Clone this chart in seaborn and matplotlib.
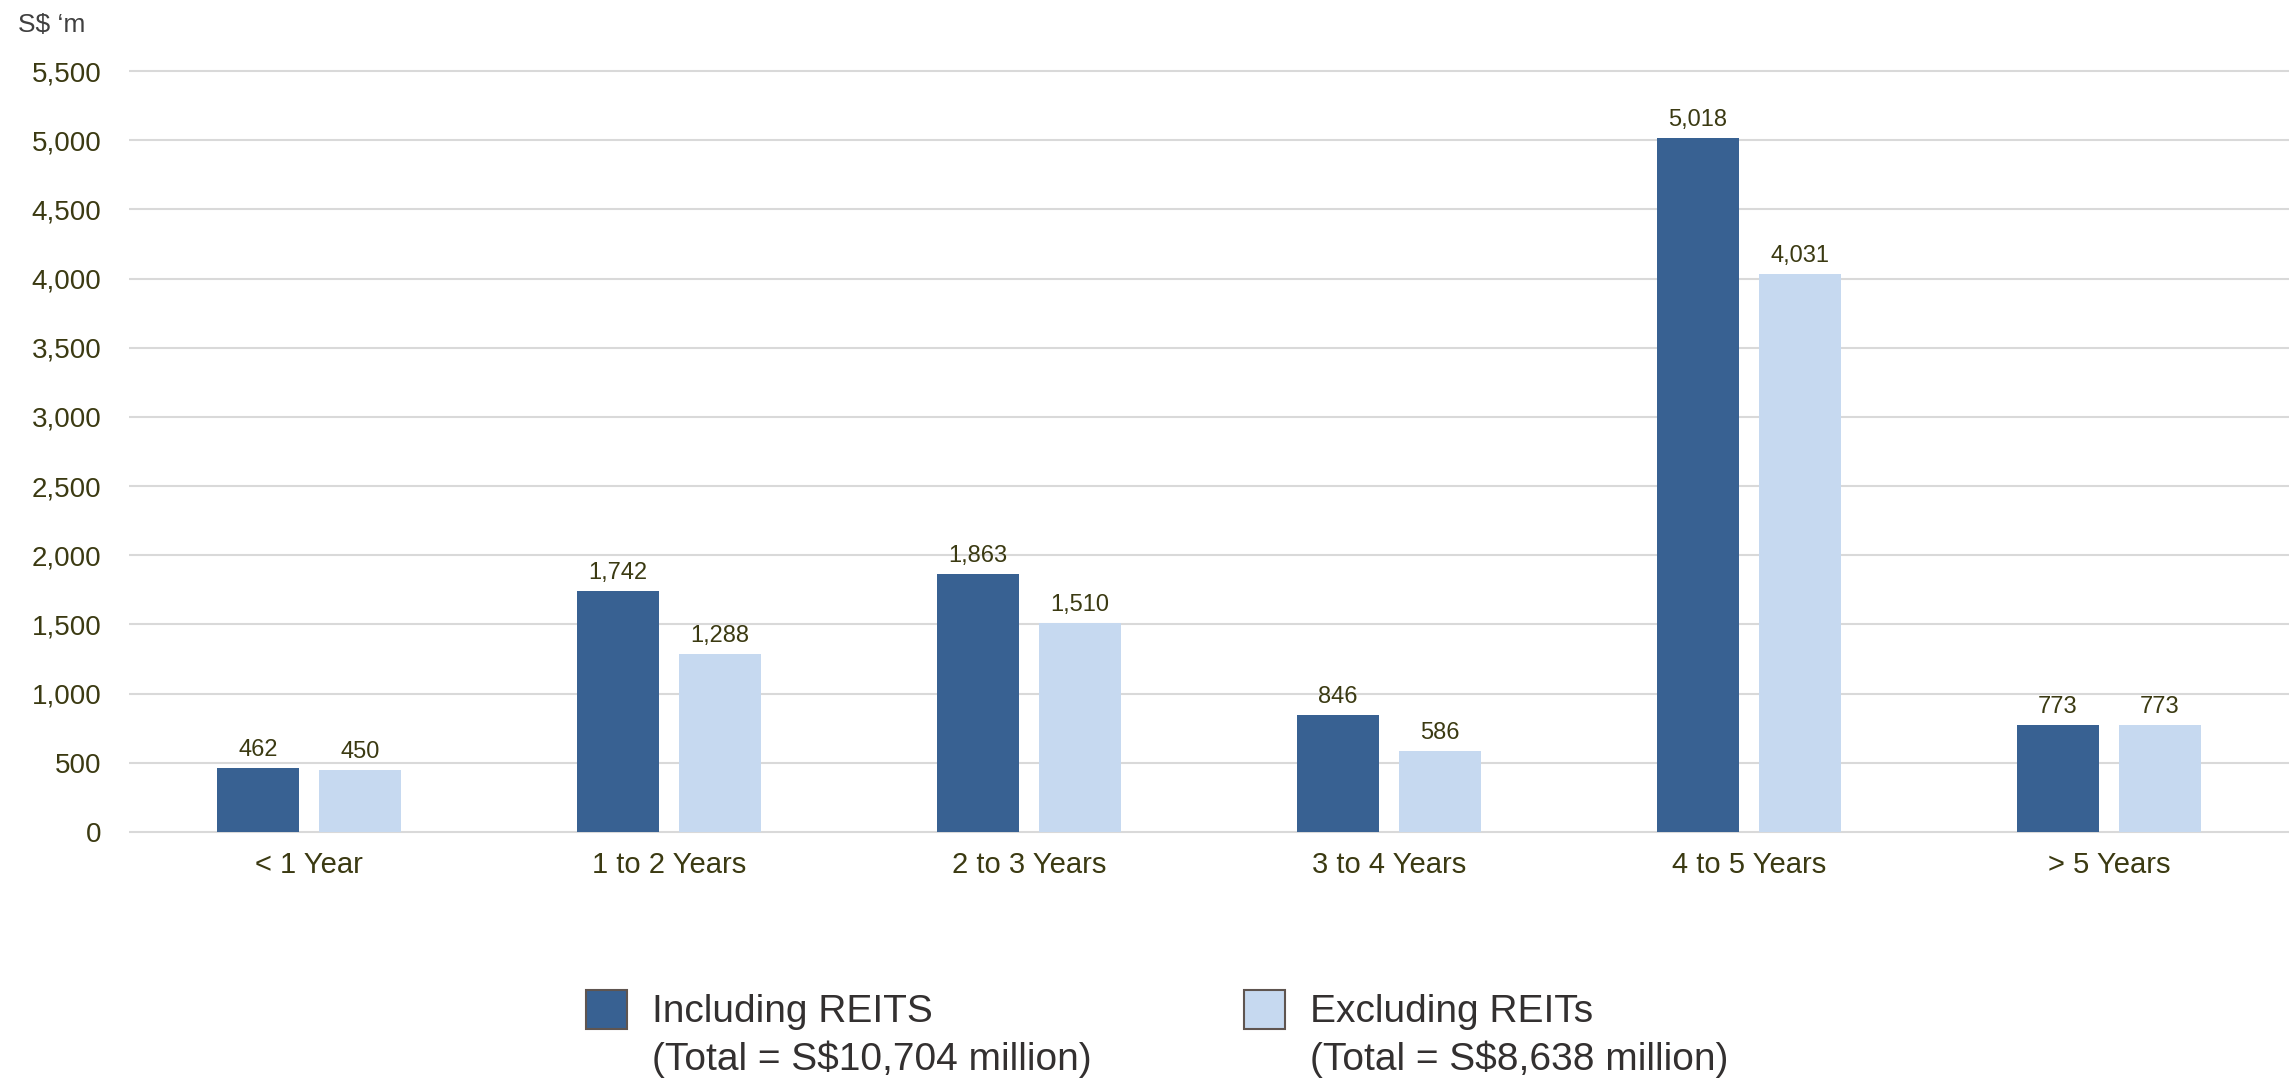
import matplotlib
matplotlib.use("Agg")
import matplotlib.pyplot as plt
import seaborn as sns
import pandas as pd
from matplotlib.patches import Patch

categories = ["< 1 Year", "1 to 2 Years", "2 to 3 Years", "3 to 4 Years", "4 to 5 Years", "> 5 Years"]
including_reits = [462, 1742, 1863, 846, 5018, 773]
excluding_reits = [450, 1288, 1510, 586, 4031, 773]
series_names = ["Including REITS", "Excluding REITs"]
series_totals = ["(Total = S$10,704 million)", "(Total = S$8,638 million)"]
y_ticks = [0, 500, 1000, 1500, 2000, 2500, 3000, 3500, 4000, 4500, 5000, 5500]
unit_label = "S$ \u2018m"

colors = ["#386192", "#C6D9F0"]
tick_color = "#3b3a12"

sns.set_style("white")
plt.rcParams["font.family"] = ["Liberation Sans", "DejaVu Sans"]

df = pd.DataFrame({
    "category": categories * 2,
    "series": [series_names[0]] * len(categories) + [series_names[1]] * len(categories),
    "value": including_reits + excluding_reits,
})

W, H = 2289, 1080
fig = plt.figure(figsize=(W / 100, H / 100), dpi=100)
ax = fig.add_axes([129 / W, 1 - 834 / H, (W - 129) / W, (834 - 67) / H])

sns.barplot(data=df, x="category", y="value", hue="series", order=categories,
            hue_order=series_names, palette=colors, width=0.567, gap=0.196,
            linewidth=0, saturation=1, legend=False, ax=ax, errorbar=None)

ax.set_xlim(-0.5, len(categories) - 0.5)
ax.set_ylim(-15, 5530)
ax.set_yticks(y_ticks)
ax.set_yticklabels([f"{v:,}" for v in y_ticks])
ax.yaxis.grid(True, color="#d9d9d9", linewidth=1.5)
ax.xaxis.grid(False)
ax.set_axisbelow(True)
for s in ax.spines.values():
    s.set_visible(False)
ax.set_xlabel("")
ax.set_ylabel("")
ax.tick_params(axis="y", length=0, pad=20, labelsize=20, labelcolor=tick_color)
ax.tick_params(axis="x", length=0, pad=12, labelsize=21, labelcolor=tick_color)

for cont, vals in zip(ax.containers, [including_reits, excluding_reits]):
    ax.bar_label(cont, labels=[f"{v:,}" for v in vals], padding=5, fontsize=17, color=tick_color)

fig.text(18 / W, 1 - 25 / H, unit_label, fontsize=19, color="#404040", va="center", ha="left")

handles = [Patch(facecolor=c, edgecolor="#5f5550", linewidth=1.5) for c in colors]
leg = fig.legend(handles, series_names, ncol=2, loc="center left",
                 bbox_to_anchor=(551 / W, 1 - 1010 / H), frameon=False, fontsize=28,
                 handlelength=1.05, handleheight=1.166, handletextpad=0.65,
                 columnspacing=8.0, labelcolor="#333030")

fig.canvas.draw()
renderer = fig.canvas.get_renderer()
for t, sub in zip(leg.get_texts(), series_totals):
    bb = t.get_window_extent(renderer)
    yc = (bb.y0 + bb.y1) / 2 - 47
    fig.text(bb.x0 / W, yc / H, sub, fontsize=28, color="#333030", ha="left", va="center")

fig.savefig("out.png", dpi=100)
